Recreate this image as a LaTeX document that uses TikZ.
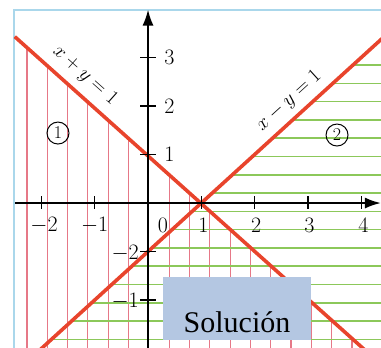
\RequirePackage{fix-cm}
\documentclass[tikz,border=0pt]{standalone}
\usepackage{fontspec}
\newfontfamily\boxfont{Liberation Serif}
\usetikzlibrary{arrows.meta}
\definecolor{mainred}{RGB}{232,68,44}
\definecolor{hatchred}{RGB}{230,120,135}
\definecolor{hatchgreen}{RGB}{140,200,90}
\definecolor{framblue}{RGB}{170,215,235}
\definecolor{boxblue}{RGB}{180,199,226}
\tikzset{
  mainline/.style={mainred, line width=3.6pt},
  redhatch/.style={hatchred, line width=1.1pt},
  greenhatch/.style={hatchgreen, line width=1.5pt},
  axisline/.style={black, line width=2pt},
  tickmark/.style={black, line width=1.3pt},
  ticklabel/.style={font=\fontsize{22}{24}\selectfont, inner sep=0pt},
  linelabel/.style={font=\fontsize{20}{22}\selectfont, inner sep=0pt},
  circlenum/.style={circle, draw=black, line width=1pt, minimum size=22pt, inner sep=0pt, font=\fontsize{18}{20}\selectfont},
  solbox/.style={fill=boxblue, draw=none, minimum width=148pt, minimum height=63pt, inner sep=0pt}
}
\begin{document}
\begin{tikzpicture}[x=53.3pt, y=48.5pt]
\useasboundingbox (-2.777,-2.969) rectangle (4.371,4.186);
\begin{scope}
\clip (-2.777,-2.969) rectangle (4.371,4.186);
% frame
\draw[framblue, line width=1.3pt] (-2.514,-3.2) -- (-2.514,3.979) -- (4.5,3.979);
% red vertical hatching (region 1)
\foreach \k in {0,...,16}{
  \pgfmathsetmacro{\xx}{-2.27+0.381*\k}
  \pgfmathsetmacro{\yy}{0.97-0.984*\xx}
  \draw[redhatch] (\xx,\yy) -- (\xx,-3.1);
}
% green horizontal hatching (region 2)
\foreach \k in {0,...,15}{
  \pgfmathsetmacro{\yy}{2.845-0.377*\k}
  \pgfmathsetmacro{\xx}{1+\yy}
  \draw[greenhatch] (\xx,\yy) -- (4.5,\yy);
}
% main lines
\coordinate (a1) at (-2.5,3.43);
\coordinate (a2) at (4.2,-3.16);
\coordinate (b1) at (-2.1,-3.1);
\coordinate (b2) at (4.5,3.5);
\draw[mainline] (a1) -- (a2);
\draw[mainline] (b1) -- (b2);
% axes
\coordinate (xs) at (-2.495,0);
\coordinate (xe) at (4.37,0);
\coordinate (ys) at (0,-3.1);
\coordinate (ye) at (0,3.99);
\draw[axisline, -{Latex[length=16pt,width=11pt]}] (xs) -- (xe);
\draw[axisline, -{Latex[length=16pt,width=11pt]}] (ys) -- (ye);
% ticks
\foreach \t in {-2,-1,1,2,3,4}{
  \draw[tickmark] (\t,-0.12) -- (\t,0.14);
}
\foreach \t in {-2,-1,1,2,3}{
  \draw[tickmark] (-0.15,\t) -- (0.15,\t);
}
\end{scope}
% tick labels
\node[ticklabel] (lxm2) at (-1.95,-0.454) {$-2$};
\node[ticklabel] (lxm1) at (-1.0,-0.454) {$-1$};
\node[ticklabel] (lx0) at (0.281,-0.454) {$0$};
\node[ticklabel] (lx1) at (1.04,-0.454) {$1$};
\node[ticklabel] (lx2) at (2.03,-0.454) {$2$};
\node[ticklabel] (lx3) at (3.03,-0.454) {$3$};
\node[ticklabel] (lx4) at (4.04,-0.454) {$4$};
\node[ticklabel] (ly3) at (0.40,3.0) {$3$};
\node[ticklabel] (ly2) at (0.40,2.0) {$2$};
\node[ticklabel] (ly1) at (0.40,1.0) {$1$};
\node[ticklabel, anchor=east] (lym2) at (-0.17,-1.04) {$-2$};
\node[ticklabel, anchor=east] (lym1) at (-0.17,-2.02) {$-1$};
% line labels
\node[linelabel, rotate=-41.7] (labA) at (-1.182,2.63) {$x+y=1$};
\node[linelabel, rotate=42.3] (labB) at (2.645,2.11) {$x-y=1$};
% region numbers
\node[circlenum] (r1) at (-1.689,1.443) {1};
\node[circlenum] (r2) at (3.546,1.402) {2};
% solution box
\node[solbox, anchor=north west] (sol) at (0.281,-1.526) {};
\node[font=\boxfont\fontsize{30}{32}\selectfont, anchor=base, inner sep=0pt] (soltext) at (1.67,-2.66) {Solución};
\end{tikzpicture}
\end{document}
